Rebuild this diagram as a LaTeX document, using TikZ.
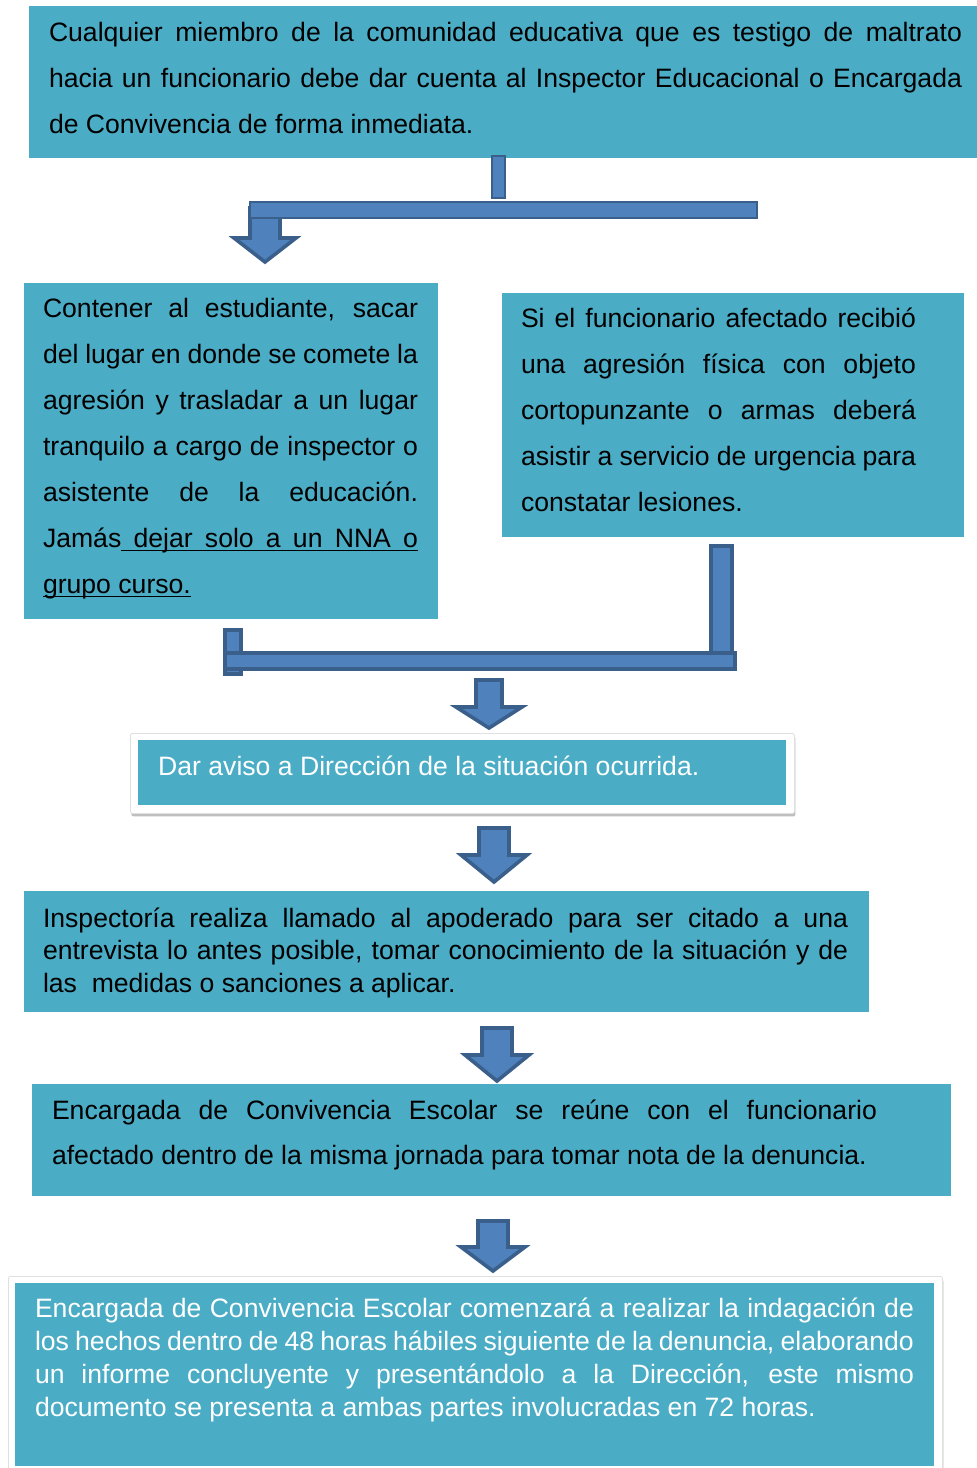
\documentclass[tikz,border=0pt]{standalone}
\usepackage{fontspec}
\setmainfont{Liberation Sans}
\usetikzlibrary{shadows}
\definecolor{boxteal}{HTML}{4BACC6}
\definecolor{arrfill}{HTML}{4F81BD}
\definecolor{arrline}{HTML}{3A5F8B}
\newcommand\ulspace{\leaders\hrule height -2.5pt depth 4.3pt\hskip\fontdimen2\font plus\fontdimen3\font minus\fontdimen4\font\relax}
\newcommand\ulword[1]{\setbox0\hbox{#1}\rlap{\vrule height -2.5pt depth 4.3pt width \wd0}\box0}
\newcommand\blkarrow[6]{%
  \draw[arrowshape] (#1-#3,#2) -- (#1+#3,#2) -- (#1+#3,#5) -- (#1+#4,#5) -- (#1,#6)
    -- (#1-#4,#5) -- (#1-#3,#5) -- cycle;}
\tikzset{
  boxfill/.style={fill=boxteal, draw=none, inner sep=0pt, outer sep=0pt, anchor=north west},
  framebox/.style={fill=white, draw=black!12, line width=0.8pt, rounded corners=2pt, inner sep=0pt, anchor=north west,
     drop shadow={shadow xshift=1pt, shadow yshift=-3pt, fill=black, opacity=0.25}},
  txt/.style={inner sep=0pt, outer sep=0pt, anchor=north west, align=justify},
  arrowshape/.style={fill=arrfill, draw=arrline, line width=3.6pt, line join=miter, miter limit=10},
  barthin/.style={fill=arrfill, draw=arrline, line width=2pt},
  barthick/.style={fill=arrfill, draw=arrline, line width=4pt},
}
\begin{document}
\begin{tikzpicture}[x=1pt, y=-1pt]
\useasboundingbox (0,0) rectangle (977,1468);
\hyphenpenalty=10000
% boxes
\node[boxfill, minimum width=948pt, minimum height=152pt] (b1) at (29,6) {};
\node[boxfill, minimum width=414pt, minimum height=336pt] (b2) at (24,283) {};
\node[boxfill, minimum width=462pt, minimum height=244pt] (b3) at (502,293) {};
\node[framebox, minimum width=664pt, minimum height=80pt] (b4o) at (130,733) {};
\node[boxfill, minimum width=648pt, minimum height=65pt] (b4) at (138,740) {};
\node[boxfill, minimum width=845pt, minimum height=121pt] (b5) at (24,891) {};
\node[boxfill, minimum width=919pt, minimum height=112pt] (b6) at (32,1084) {};
\node[framebox, minimum width=934pt, minimum height=205pt] (b7o) at (8,1276) {};
\node[boxfill, minimum width=919pt, minimum height=183pt] (b7) at (15,1283) {};
% texts
\node[txt, text width=913pt, font=\fontsize{26.6}{46}\selectfont] (t1) at (49,19.7) {\rule{0pt}{22pt}Cualquier miembro de la comunidad educativa que es testigo de maltrato\linebreak hacia un funcionario debe dar cuenta al Inspector Educacional o Encargada\linebreak de Convivencia de forma inmediata.};
\node[txt, text width=375pt, font=\fontsize{26.6}{46}\selectfont] (t2) at (43,295) {\rule{0pt}{22pt}Contener al estudiante, sacar\linebreak del lugar en donde se comete la\linebreak agresión y trasladar a un lugar\linebreak tranquilo a cargo de inspector o\linebreak asistente de la educación.\linebreak Jamás\ulspace\ulword{dejar}\ulspace\ulword{solo}\ulspace\ulword{a}\ulspace\ulword{un}\ulspace\ulword{NNA}\ulspace\ulword{o}\linebreak \ulword{grupo}\ulspace\ulword{curso.}};
\node[txt, text width=395pt, font=\fontsize{26.6}{46}\selectfont] (t3) at (521,305) {\rule{0pt}{22pt}Si el funcionario afectado recibió\linebreak una agresión física con objeto\linebreak cortopunzante o armas deberá\linebreak asistir a servicio de urgencia para\linebreak constatar lesiones.};
\node[inner sep=0pt, anchor=base west, text=white, font=\fontsize{26.6}{32}\selectfont] (t4) at (158,775) {Dar aviso a Dirección de la situación ocurrida.};
\node[txt, text width=805pt, font=\fontsize{26.6}{32.5}\selectfont] (t5) at (43,905) {\rule{0pt}{22pt}Inspectoría realiza llamado al apoderado para ser citado a una\linebreak entrevista lo antes posible, tomar conocimiento de la situación y de\linebreak las\ \ medidas o sanciones a aplicar.};
\node[txt, text width=825pt, font=\fontsize{26.6}{45.5}\selectfont] (t6) at (52,1097) {\rule{0pt}{22pt}Encargada de Convivencia Escolar se reúne con el funcionario\linebreak afectado dentro de la misma jornada para tomar nota de la denuncia.};
\node[txt, text width=879pt, text=white, font=\fontsize{26.6}{33}\selectfont] (t7) at (35,1295) {\rule{0pt}{22pt}Encargada de Convivencia Escolar comenzará a realizar la indagación de\linebreak los hechos dentro de 48 horas hábiles siguiente de la denuncia, elaborando\linebreak un informe concluyente y presentándolo a la Dirección, este mismo\linebreak documento se presenta a ambas partes involucradas en 72 horas.};
% connector 1
\draw[barthin] (492,156) rectangle (505,198);
\blkarrow{265}{208}{15}{31}{238}{262}
\draw[barthin] (250,202) rectangle (757,218);
% connector 2
\draw[barthick] (711,546) rectangle (732,656);
\draw[barthick] (225,630) rectangle (241,674);
\draw[barthick] (225,653) rectangle (735,669);
\blkarrow{489}{680}{13}{33}{707}{728}
% other arrows
\blkarrow{494}{828}{15}{33}{855}{882}
\blkarrow{497}{1028}{15}{32}{1055}{1081}
\blkarrow{493}{1221}{15}{32}{1247}{1271}
\end{tikzpicture}
\end{document}
